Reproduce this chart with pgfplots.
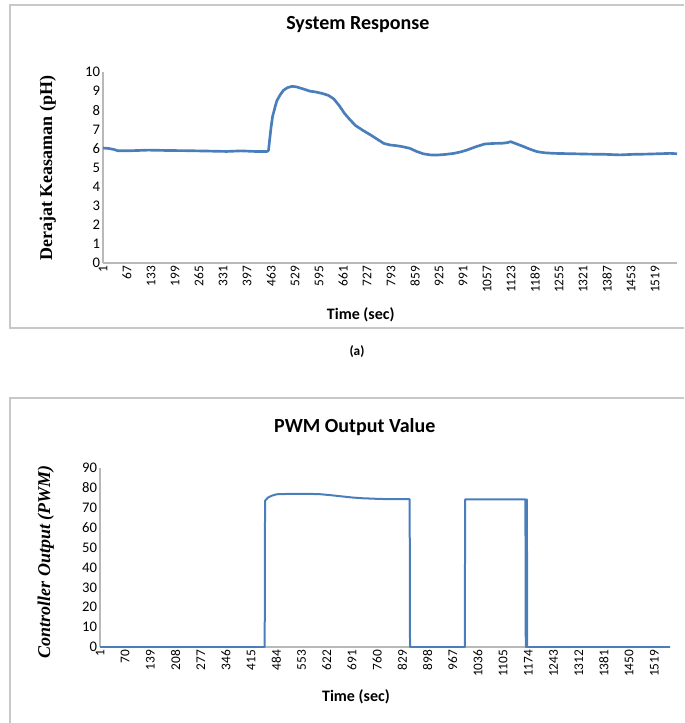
\documentclass[border=0pt]{standalone}
\usepackage{pgfplots}
\pgfplotsset{compat=1.18}
\usepackage{fontspec}
\setmainfont{Carlito}
\newfontfamily\serifb{Liberation Serif}
\definecolor{xlblue}{HTML}{4A7EBB}
\definecolor{boxgray}{HTML}{C8C8C8}
\pgfplotsset{
  xlstyle/.style={
    scale only axis,
    anchor=south west,
    axis x line=bottom, axis y line=left,
    axis line style={-, draw=gray!55, line width=0.8pt},
    major tick length=0pt,
    /pgf/number format/assume math mode=true,
    /pgf/number format/1000 sep={},
    xticklabel style={rotate=90, anchor=east, font=\fontsize{10}{11}\selectfont, inner sep=2pt},
    yticklabel style={font=\fontsize{11}{12}\selectfont, inner sep=2pt},
    title style={font=\bfseries\fontsize{15}{17}\selectfont, anchor=center},
    xlabel style={font=\bfseries\fontsize{12}{14}\selectfont, anchor=center},
    ylabel style={anchor=center},
  }
}
\begin{document}
\begin{tikzpicture}
\useasboundingbox (0,0) rectangle (513pt,-542.25pt);
\draw[boxgray, line width=0.8pt] (513pt,-3.75pt) -- (7.5pt,-3.75pt) -- (7.5pt,-246pt) -- (513pt,-246pt);
\draw[boxgray, line width=0.8pt] (513pt,-298.5pt) -- (7.5pt,-298.5pt) -- (7.5pt,-542.25pt);
\node[font=\bfseries\fontsize{10}{11}\selectfont] at (267.75pt,-264pt) {(a)};

\begin{axis}[xlstyle,
  at={(77.25pt,-197.25pt)},
  width=430.5pt, height=143.25pt,
  xmin=1, xmax=1579, ymin=0, ymax=10,
  xtick={1,67,...,1519},
  ytick={0,1,...,10},
  title={System Response},
  title style={at={(rel axis cs:0.444,1.209)}},
  xlabel={Time (sec)},
  xlabel style={at={(rel axis cs:0.449,-0.272)}},
  ylabel={\serifb\bfseries\fontsize{13.5}{14}\selectfont Derajat Keasaman (pH)},
  ylabel style={at={(rel axis cs:-0.096,0.497)}},
]
\addplot[xlblue, line width=2pt, line join=round] coordinates {
(1,6.02) (15,6.0) (30,5.95) (41,5.88) (80,5.88) (125,5.91) (180,5.89) (233,5.88)
(290,5.86) (341,5.84) (380,5.87) (420,5.84) (452,5.84) (456,5.9) (459,6.43)
(463,7.1) (467,7.65) (473,8.1) (479,8.5) (488,8.8) (497,9.04) (508,9.18)
(521,9.25) (533,9.22) (545,9.15) (557,9.08) (569,9.0) (587,8.95) (605,8.87)
(620,8.78) (635,8.6) (650,8.25) (665,7.83) (680,7.5) (695,7.2) (715,6.95)
(737,6.7) (755,6.48) (773,6.26) (790,6.18) (809,6.14) (827,6.08) (845,6.0)
(862,5.85) (881,5.72) (900,5.66) (917,5.65) (940,5.68) (966,5.74) (985,5.82)
(1001,5.91) (1025,6.08) (1050,6.23) (1075,6.26) (1098,6.27) (1112,6.3)
(1122,6.35) (1140,6.22) (1158,6.09) (1176,5.95) (1194,5.83) (1215,5.77)
(1242,5.74) (1290,5.72) (1338,5.70) (1380,5.69) (1422,5.66) (1460,5.69)
(1494,5.70) (1530,5.72) (1560,5.74) (1579,5.72)
};
\end{axis}

\begin{axis}[xlstyle,
  at={(75pt,-485.25pt)},
  width=427.5pt, height=134.25pt,
  xmin=1, xmax=1562, ymin=0, ymax=90,
  xtick={1,70,...,1519},
  ytick={0,10,...,90},
  title={PWM Output Value},
  title style={at={(rel axis cs:0.447,1.184)}},
  xlabel={Time (sec)},
  xlabel style={at={(rel axis cs:0.449,-0.279)}},
  ylabel={\serifb\bfseries\itshape\fontsize{13.5}{14}\selectfont Controller Output (PWM)},
  ylabel style={at={(rel axis cs:-0.095,0.475)}},
]
\addplot[xlblue, line width=1.5pt, line join=round] coordinates {
(1,0) (452,0) (453,73.5) (460,75) (470,76) (485,76.8) (520,77) (560,77)
(600,76.9) (630,76.4) (660,75.8) (690,75.2) (720,74.8) (760,74.5) (800,74.3)
(849,74.3) (850,0) (1000,0) (1001,74.2) (1166,74.2) (1167,0) (1168,74.2)
(1169,0) (1170,74.2) (1171,0) (1562,0)
};
\end{axis}
\end{tikzpicture}
\end{document}
